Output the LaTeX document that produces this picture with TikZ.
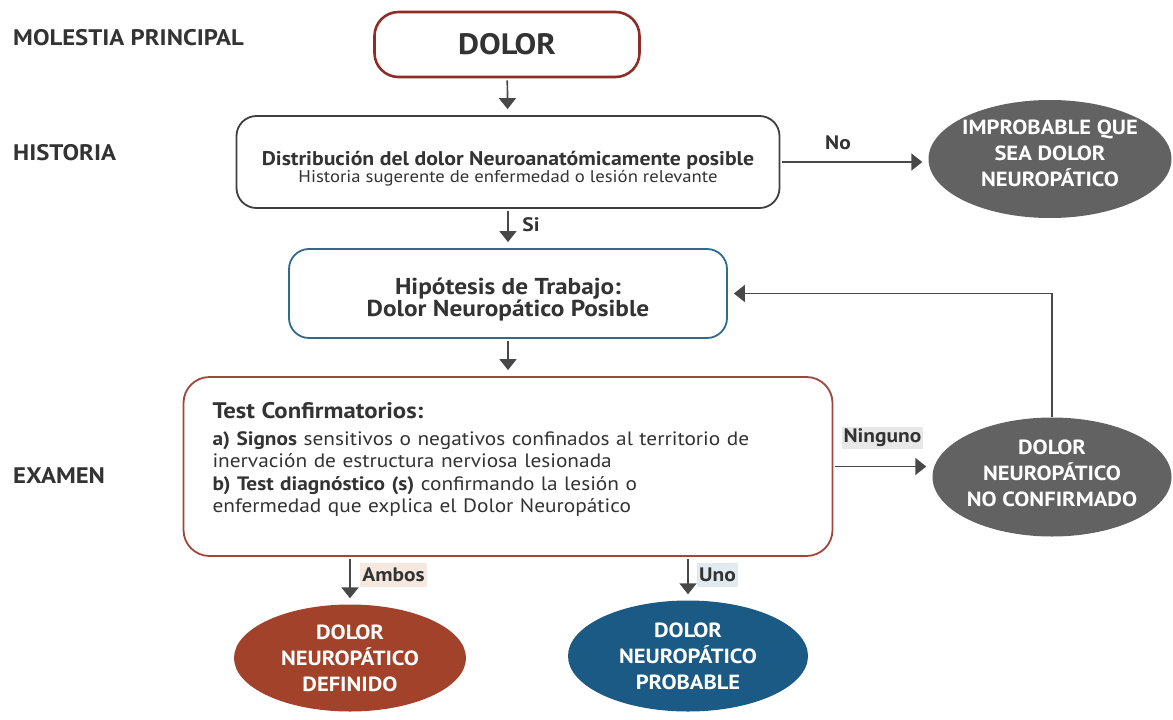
\documentclass[tikz,border=0pt]{standalone}
\usepackage{fontspec}
\setmainfont{PT Sans}[FakeStretch=1.1]
\usetikzlibrary{shapes,arrows.meta}
\definecolor{txt}{HTML}{333333}
\definecolor{rojo}{HTML}{8E2D27}
\definecolor{rojoclaro}{HTML}{A0473B}
\definecolor{azul}{HTML}{2F6B8C}
\definecolor{gris}{HTML}{3E3E3E}
\definecolor{flechagris}{HTML}{484848}
\definecolor{elipgris}{HTML}{626262}
\definecolor{definido}{HTML}{A2422B}
\definecolor{probable}{HTML}{1B5A84}
\definecolor{durazno}{HTML}{F5E8DF}
\definecolor{celeste}{HTML}{E1EAEE}
\definecolor{grisclaro}{HTML}{E8E8E8}
\begin{document}
\begin{tikzpicture}[x=1pt,y=-1pt]
\tikzstyle{every node}=[text=txt]
\tikzstyle{caja}=[rectangle,rounded corners=20pt,draw,line width=1.8pt,fill=white,align=center,inner sep=0pt]
\tikzstyle{elip}=[ellipse,inner sep=-25pt,text=white,align=center,font=\bfseries\fontsize{20.5}{26}\selectfont]
\tikzstyle{flecha}=[draw=flechagris,line width=1.7pt,-{Triangle[width=17pt,length=11pt]},shorten >=6pt,shorten <=2pt]
\tikzstyle{etiq}=[inner sep=2pt,font=\bfseries\fontsize{19.5}{22}\selectfont]
\tikzstyle{seccion}=[anchor=base west,inner sep=0pt,font=\bfseries\fontsize{22.5}{26}\selectfont]
\useasboundingbox (0,0) rectangle (1173,720);

\node[seccion] (molestia) at (13,45) {MOLESTIA PRINCIPAL};
\node[seccion] (historia) at (13,160) {HISTORIA};
\node[seccion] (examen) at (13,483) {EXAMEN};

\node[caja,draw=rojo,line width=2.6pt,rounded corners=24pt,minimum width=265pt,minimum height=65pt,font=\bfseries\fontsize{29.5}{30}\selectfont] (dolor) at (507,44.5) {DOLOR};
\node[caja,draw=gris,minimum width=543pt,minimum height=92pt,font=\fontsize{17}{17.5}\selectfont] (dist) at (508,162) {\rule{0pt}{28pt}{\bfseries\fontsize{19.8}{17.5}\selectfont Distribución del dolor Neuroanatómicamente posible}\\Historia sugerente de enfermedad o lesión relevante};
\node[caja,draw=azul,minimum width=438pt,minimum height=89pt,font=\bfseries\fontsize{23}{20.5}\selectfont] (hip) at (508,293.5) {\rule{0pt}{28pt}Hipótesis de Trabajo:\\Dolor Neuropático Posible};
\node[caja,draw=rojoclaro,rounded corners=26pt,minimum width=649pt,minimum height=179pt,text width=591pt,align=left,font=\fontsize{19.4}{22.5}\selectfont] (test) at (508,466.5) {{\bfseries\fontsize{22.5}{22}\selectfont Test Confirmatorios:}\\[4pt]\textbf{a) Signos} sensitivos o negativos confinados al territorio de\\inervación de estructura nerviosa lesionada\\\textbf{b) Test diagnóstico (s)} confirmando la lesión o\\enfermedad que explica el Dolor Neuropático\\[-5pt]\mbox{}};

\node[elip,fill=elipgris,minimum width=243pt,minimum height=118pt] (impr) at (1050,159) {IMPROBABLE QUE\\SEA DOLOR\\NEUROPÁTICO\rule[-12pt]{0pt}{12pt}};
\node[elip,fill=elipgris,minimum width=239pt,minimum height=119pt] (noconf) at (1052,477) {DOLOR\\NEUROPÁTICO\\NO CONFIRMADO\rule[-8pt]{0pt}{8pt}};
\node[elip,fill=definido,minimum width=232pt,minimum height=107pt] (defin) at (350,658) {DOLOR\\NEUROPÁTICO\\DEFINIDO};
\node[elip,fill=probable,minimum width=240pt,minimum height=111pt] (prob) at (688,656) {DOLOR\\NEUROPÁTICO\\PROBABLE};

\node[etiq] (no) at (838,143) {No};
\node[etiq] (si) at (531,225) {Si};
\node[etiq,fill=durazno,minimum width=67pt,minimum height=24pt] (ambos) at (393.5,575) {Ambos};
\node[etiq,fill=celeste,minimum width=41pt,minimum height=24pt] (uno) at (717.5,575) {Uno};
\node[etiq,fill=grisclaro,minimum width=81pt,minimum height=22pt] (ninguno) at (882.5,438) {Ninguno};

\draw[flecha] (dolor) -- (dist);
\draw[flecha] (dist.east) -- (dist.east -| impr.west);
\draw[flecha] (dist) -- (hip);
\draw[flecha] (hip) -- (test);
\draw[flecha] (test.east) -- (test.east -| noconf.west);
\draw[flecha,shorten <=0pt] (noconf.north) |- (hip.east);
\draw[flecha] (defin.north |- test.south) -- (defin);
\draw[flecha] (prob.north |- test.south) -- (prob);
\end{tikzpicture}
\end{document}
